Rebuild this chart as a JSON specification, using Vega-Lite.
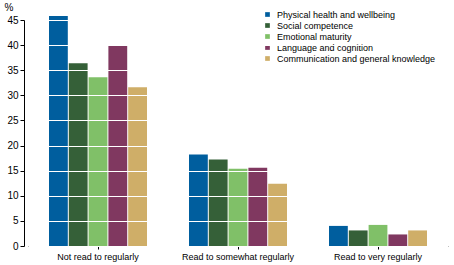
{
  "$schema": "https://vega.github.io/schema/vega-lite/v6.json",
  "width": 420,
  "height": 226,
  "autosize": "none",
  "padding": {"left": 28, "top": 20, "right": 6, "bottom": 19},
  "background": "white",
  "config": {
    "view": {"stroke": null},
    "font": "Liberation Sans",
    "axis": {"labelFont": "Liberation Sans", "labelColor": "black", "titleColor": "black"}
  },
  "data": {
    "values": [
      {"group": "Not read to regularly", "domain": "Physical health and wellbeing", "value": 45.8},
      {"group": "Not read to regularly", "domain": "Social competence", "value": 36.4},
      {"group": "Not read to regularly", "domain": "Emotional maturity", "value": 33.6},
      {"group": "Not read to regularly", "domain": "Language and cognition", "value": 40.0},
      {"group": "Not read to regularly", "domain": "Communication and general knowledge", "value": 31.6},
      {"group": "Read to somewhat regularly", "domain": "Physical health and wellbeing", "value": 18.2},
      {"group": "Read to somewhat regularly", "domain": "Social competence", "value": 17.2},
      {"group": "Read to somewhat regularly", "domain": "Emotional maturity", "value": 15.4},
      {"group": "Read to somewhat regularly", "domain": "Language and cognition", "value": 15.6},
      {"group": "Read to somewhat regularly", "domain": "Communication and general knowledge", "value": 12.4},
      {"group": "Read to very regularly", "domain": "Physical health and wellbeing", "value": 4.0},
      {"group": "Read to very regularly", "domain": "Social competence", "value": 3.1},
      {"group": "Read to very regularly", "domain": "Emotional maturity", "value": 4.2},
      {"group": "Read to very regularly", "domain": "Language and cognition", "value": 2.3},
      {"group": "Read to very regularly", "domain": "Communication and general knowledge", "value": 3.1}
    ]
  },
  "mark": {"type": "bar"},
  "encoding": {
    "x": {
      "field": "group", "type": "nominal", "sort": null,
      "scale": {"paddingInner": 0.3, "paddingOuter": 0.15},
      "axis": {"title": null, "labelAngle": 0, "labelFontSize": 9, "domainColor": "black", "tickColor": "black", "tickSize": 3, "labelPadding": 3}
    },
    "xOffset": {
      "field": "domain", "type": "nominal", "sort": null,
      "scale": {"paddingInner": 0.05}
    },
    "y": {
      "field": "value", "type": "quantitative",
      "scale": {"domain": [0, 45]},
      "axis": {
        "title": "%", "titleAngle": 0, "titleAlign": "left", "titleBaseline": "top", "titleX": -20, "titleY": -18, "titleFontSize": 10, "titleFontWeight": "normal",
        "values": [0, 5, 10, 15, 20, 25, 30, 35, 40, 45],
        "labelFontSize": 10, "offset": 4, "grid": true, "gridColor": "white", "gridWidth": 1, "zindex": 1,
        "domainColor": "black", "tickColor": "black", "tickSize": 4, "labelPadding": 2
      }
    },
    "color": {
      "field": "domain", "type": "nominal", "sort": null,
      "scale": {
        "domain": ["Physical health and wellbeing", "Social competence", "Emotional maturity", "Language and cognition", "Communication and general knowledge"],
        "range": ["#005E9E", "#356038", "#80C068", "#803860", "#CFAE68"]
      },
      "legend": {
        "title": null, "orient": "none", "legendX": 235, "legendY": -10,
        "symbolType": "square", "symbolSize": 22, "symbolStrokeWidth": 0,
        "labelFontSize": 9, "labelColor": "black", "rowPadding": 1, "labelOffset": 5
      }
    }
  }
}
